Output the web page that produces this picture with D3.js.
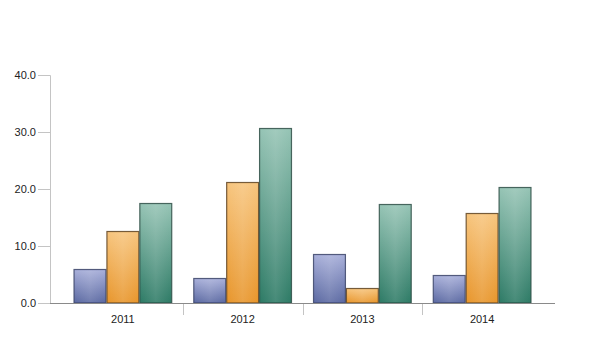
<!DOCTYPE html>
<html>
<head>
<meta charset="utf-8">
<script src="https://cdn.jsdelivr.net/npm/d3@7"></script>
<style>
  body { margin: 0; background: #fff; }
  svg { display: block; font-family: "Liberation Sans", Arial, sans-serif; }
  .tick-label { font-size: 11px; fill: #222; }
</style>
</head>
<body>
<svg id="chart" width="593" height="340"></svg>
<script>
// chart data
const years = ["2011", "2012", "2013", "2014"];
const seriesNames = ["A", "B", "C"];
const seriesA = [6.0, 4.3, 8.6, 4.9];
const seriesB = [12.7, 21.2, 2.6, 15.8];
const seriesC = [17.6, 30.7, 17.3, 20.3];
const yTicks = [0, 10, 20, 30, 40];

const seriesValues = [seriesA, seriesB, seriesC];
const palette = [
  { top: "#a9b0da", bottom: "#5b69a2", stroke: "#3b4468" },
  { top: "#f7c57e", bottom: "#e8962c", stroke: "#5e4322" },
  { top: "#96c4b5", bottom: "#2e7b66", stroke: "#2f4f46" },
];

const svg = d3.select("#chart");
const plot = { left: 50, right: 555, top: 75, bottom: 303 };
const pad = 13;

const x = d3.scaleBand()
  .domain(years)
  .range([plot.left + pad, plot.right - pad])
  .paddingInner(0)
  .paddingOuter(0);

const inner = d3.scaleBand()
  .domain(seriesNames)
  .range([0, x.bandwidth()])
  .paddingInner(0)
  .paddingOuter(0.32);

const y = d3.scaleLinear().domain([0, 40]).range([plot.bottom, plot.top]);

// gradients
const defs = svg.append("defs");
palette.forEach((p, i) => {
  const g = defs.append("linearGradient")
    .attr("id", `grad${i}`)
    .attr("x1", 0).attr("y1", 0).attr("x2", 0).attr("y2", 1);
  g.append("stop").attr("offset", "0%").attr("stop-color", p.top);
  g.append("stop").attr("offset", "100%").attr("stop-color", p.bottom);
});
const sheen = defs.append("linearGradient")
  .attr("id", "sheen")
  .attr("x1", 0).attr("y1", 0).attr("x2", 1).attr("y2", 0);
sheen.append("stop").attr("offset", "0%").attr("stop-color", "#fff").attr("stop-opacity", 0);
sheen.append("stop").attr("offset", "50%").attr("stop-color", "#fff").attr("stop-opacity", 0.12);
sheen.append("stop").attr("offset", "100%").attr("stop-color", "#fff").attr("stop-opacity", 0);

// y axis
const yAxis = d3.axisLeft(y)
  .tickValues(yTicks)
  .tickSize(12)
  .tickPadding(2)
  .tickFormat(d3.format(".1f"));

const yg = svg.append("g")
  .attr("transform", `translate(${plot.left},0)`)
  .call(yAxis);
yg.select(".domain").attr("stroke", "#c4c4c4");
yg.selectAll(".tick line").attr("stroke", "#c4c4c4");
yg.selectAll(".tick text").attr("class", "tick-label").attr("fill", "#222").attr("font-size", 11)
  .attr("font-family", "Liberation Sans, Arial, sans-serif");

// bars
const rows = [];
years.forEach((yr, i) => {
  seriesNames.forEach((s, j) => {
    rows.push({ year: yr, series: s, idx: j, value: seriesValues[j][i] });
  });
});

const groups = svg.append("g").selectAll("g")
  .data(rows)
  .join("g")
  .attr("transform", (d) => `translate(${x(d.year) + inner(d.series)},0)`);

groups.append("rect")
  .attr("x", 0.5)
  .attr("y", (d) => Math.round(y(d.value)) + 0.5)
  .attr("width", inner.bandwidth() - 1)
  .attr("height", (d) => plot.bottom - Math.round(y(d.value)) - 0.5)
  .attr("fill", (d) => `url(#grad${d.idx})`)
  .attr("stroke", (d) => palette[d.idx].stroke)
  .attr("stroke-opacity", 0.85)
  .attr("stroke-width", 1.2);

groups.append("rect")
  .attr("x", 1.5)
  .attr("y", (d) => Math.round(y(d.value)) + 1.5)
  .attr("width", inner.bandwidth() - 3)
  .attr("height", (d) => Math.max(0, plot.bottom - Math.round(y(d.value)) - 2.5))
  .attr("fill", "url(#sheen)");

// x axis
const xg = svg.append("g").attr("transform", `translate(0,${plot.bottom})`);
xg.append("line")
  .attr("x1", plot.left).attr("x2", plot.right)
  .attr("y1", 0.5).attr("y2", 0.5)
  .attr("stroke", "#8a8a8a");

xg.selectAll("line.sep")
  .data(years.slice(1))
  .join("line")
  .attr("class", "sep")
  .attr("x1", (d) => Math.round(x(d)) + 0.5)
  .attr("x2", (d) => Math.round(x(d)) + 0.5)
  .attr("y1", 1).attr("y2", 12)
  .attr("stroke", "#c4c4c4");

xg.selectAll("text")
  .data(years)
  .join("text")
  .attr("class", "tick-label")
  .attr("x", (d) => x(d) + x.bandwidth() / 2)
  .attr("y", 20)
  .attr("text-anchor", "middle")
  .text((d) => d);
</script>
</body>
</html>
